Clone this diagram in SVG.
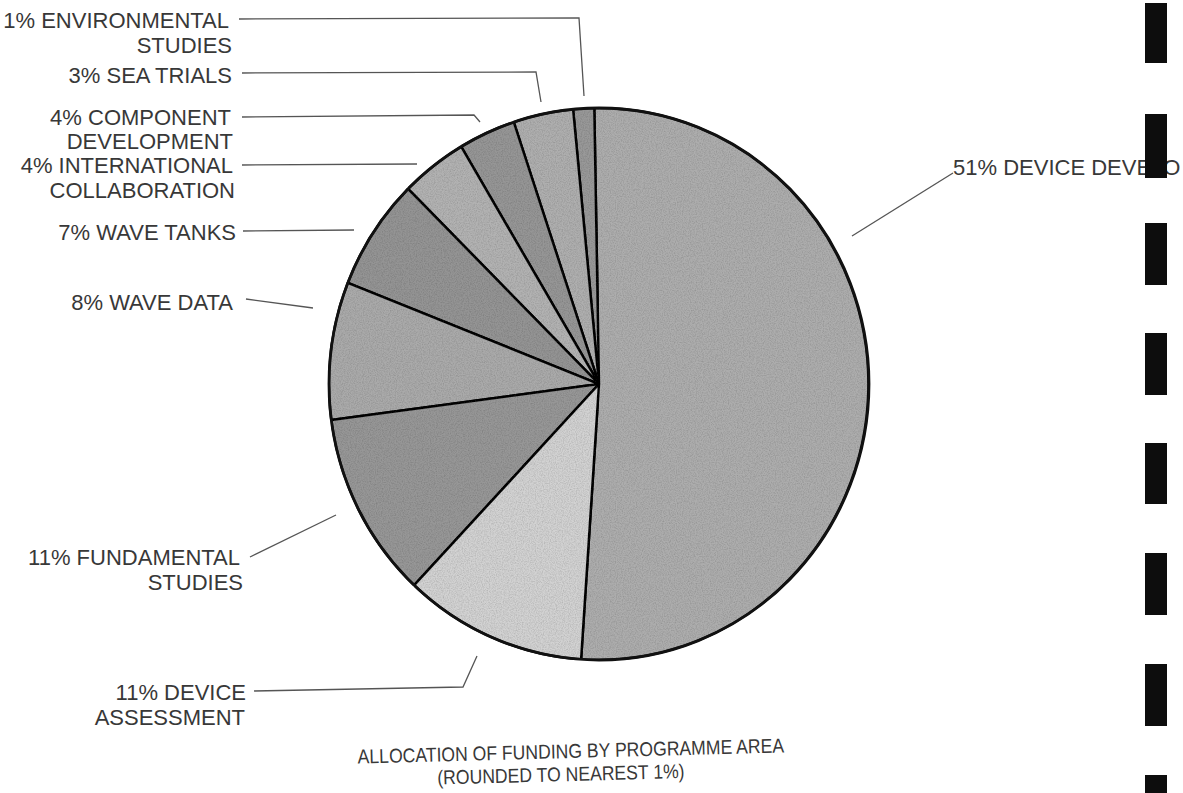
<svg xmlns="http://www.w3.org/2000/svg" width="1183" height="793" viewBox="0 0 1183 793">
<defs>
<filter id="grain" x="0" y="0" width="100%" height="100%">
<feTurbulence type="fractalNoise" baseFrequency="0.85" numOctaves="2" seed="3" result="n"/>
<feColorMatrix in="n" type="matrix" values="0 0 0 0 0  0 0 0 0 0  0 0 0 0 0  0.55 0 0 0 -0.2" result="g"/>
<feComposite in="g" in2="SourceGraphic" operator="in" result="gi"/>
<feMerge><feMergeNode in="SourceGraphic"/><feMergeNode in="gi"/></feMerge>
</filter>
</defs>
<style>
.lbl{font-family:"Liberation Sans",Arial,sans-serif;font-size:22px;fill:#383838;text-anchor:end}
.ttl{font-family:"Liberation Sans",Arial,sans-serif;font-size:20px;fill:#383838;text-anchor:middle}
.sl{stroke:#111;stroke-width:2.5;stroke-linejoin:round;filter:url(#grain)}
.ld{fill:none;stroke:#555;stroke-width:1.3}
.bar{fill:#0d0d0d}
</style>
<rect width="1183" height="793" fill="#ffffff"/>
<g id="slice-device-development">
<path class="sl" d="M599 384 L594.3 108 A270 276 0 1 1 581.1 659.4 Z" fill="#adadad"/>
<text x="953" y="175" class="lbl" style="text-anchor:start">51% DEVICE DEVELO</text>
</g>
<g id="slice-environmental-studies">
<path class="sl" d="M599 384 L594.3 108 A270 276 0 0 0 573.1 109.3 Z" fill="#999999"/>
<text x="229" y="28" class="lbl">1% ENVIRONMENTAL</text>
<text x="232" y="53" class="lbl">STUDIES</text>
</g>
<g id="slice-sea-trials">
<path class="sl" d="M599 384 L573.1 109.3 A270 276 0 0 0 513.8 122.1 Z" fill="#afafaf"/>
<text x="232" y="83" class="lbl">3% SEA TRIALS</text>
</g>
<g id="slice-component-development">
<path class="sl" d="M599 384 L513.8 122.1 A270 276 0 0 0 461.2 146.7 Z" fill="#969696"/>
<text x="231" y="125" class="lbl">4% COMPONENT</text>
<text x="233" y="149" class="lbl">DEVELOPMENT</text>
</g>
<g id="slice-international-collaboration">
<path class="sl" d="M599 384 L461.2 146.7 A270 276 0 0 0 408.1 188.8 Z" fill="#b2b2b2"/>
<text x="233" y="173" class="lbl">4% INTERNATIONAL</text>
<text x="235" y="198" class="lbl">COLLABORATION</text>
</g>
<g id="slice-wave-tanks">
<path class="sl" d="M599 384 L408.1 188.8 A270 276 0 0 0 347.8 282.8 Z" fill="#949494"/>
<text x="236" y="240" class="lbl">7% WAVE TANKS</text>
</g>
<g id="slice-wave-data">
<path class="sl" d="M599 384 L347.8 282.8 A270 276 0 0 0 331.3 420 Z" fill="#aaaaaa"/>
<text x="233" y="310" class="lbl">8% WAVE DATA</text>
</g>
<g id="slice-fundamental-studies">
<path class="sl" d="M599 384 L331.3 420 A270 276 0 0 0 414.2 585.2 Z" fill="#979797"/>
<text x="240" y="565" class="lbl">11% FUNDAMENTAL</text>
<text x="243" y="590" class="lbl">STUDIES</text>
</g>
<g id="slice-device-assessment">
<path class="sl" d="M599 384 L414.2 585.2 A270 276 0 0 0 581.1 659.4 Z" fill="#d2d2d2"/>
<text x="246" y="700" class="lbl">11% DEVICE</text>
<text x="245" y="725" class="lbl">ASSESSMENT</text>
</g>
<ellipse cx="599" cy="384" rx="270" ry="276" fill="none" stroke="#111" stroke-width="2.8"/>
<g id="connectors">
<path class="ld" d="M239 19 L579 18 L584 96"/>
<path class="ld" d="M242 73 L536 72 L541 102"/>
<path class="ld" d="M242 117 L474 115 L480 122"/>
<path class="ld" d="M242 165 L417 164"/>
<path class="ld" d="M243 231 L354 230"/>
<path class="ld" d="M246 299 L313 308"/>
<path class="ld" d="M250 557 L336 515"/>
<path class="ld" d="M254 691 L463 687 L477 656"/>
<path class="ld" d="M852 236 L953 173"/>
</g>
<g id="title">
<g transform="translate(571 758) rotate(-1.5) scale(0.88 1)">
<text x="0" y="0" class="ttl">ALLOCATION OF FUNDING BY PROGRAMME AREA</text>
<text x="-12" y="23" class="ttl">(ROUNDED TO NEAREST 1%)</text>
</g>
</g>
<g id="binding-marks">
<rect class="bar" x="1145" y="3" width="22" height="60"/>
<rect class="bar" x="1145" y="114" width="22" height="64"/>
<rect class="bar" x="1145" y="223" width="22" height="62"/>
<rect class="bar" x="1145" y="333" width="22" height="62"/>
<rect class="bar" x="1145" y="443" width="22" height="61"/>
<rect class="bar" x="1145" y="553" width="22" height="62"/>
<rect class="bar" x="1145" y="664" width="22" height="62"/>
<rect class="bar" x="1145" y="775" width="22" height="18"/>
</g>
</svg>
